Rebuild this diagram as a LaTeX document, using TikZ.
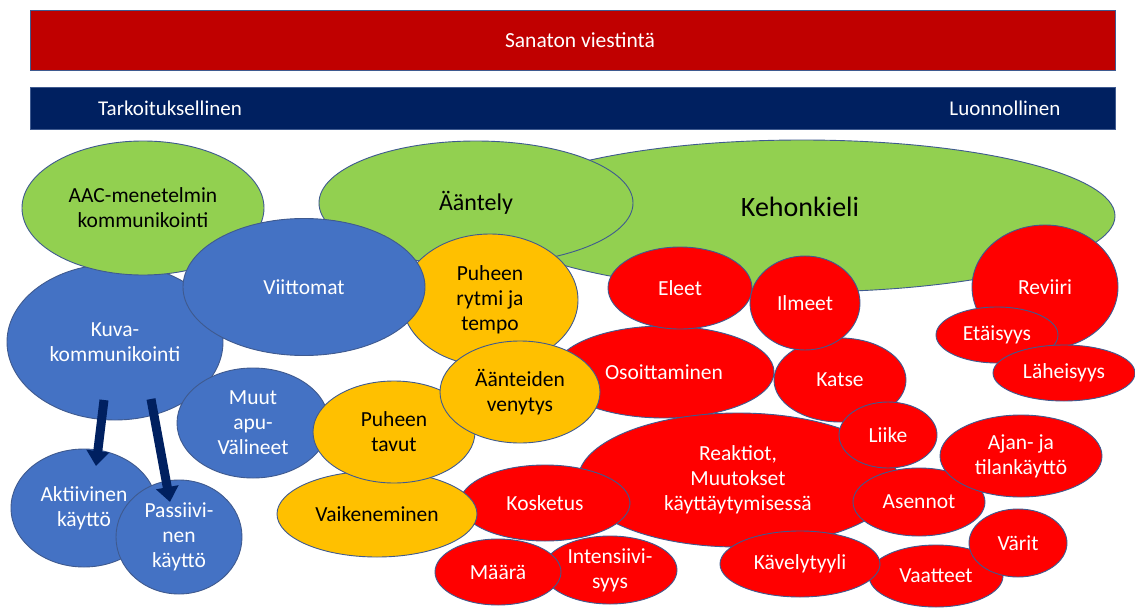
\documentclass[tikz,border=0pt]{standalone}
\usepackage{fontspec}
\setmainfont{Carlito}
\usetikzlibrary{shapes.geometric,arrows.meta}
\definecolor{cgreen}{HTML}{92D050}
\definecolor{cblue}{HTML}{4472C4}
\definecolor{cyellow}{HTML}{FFC000}
\definecolor{cred}{HTML}{FF0000}
\definecolor{cdarkred}{HTML}{C00000}
\definecolor{cnavy}{HTML}{002060}
\definecolor{cedge}{HTML}{3F5A8F}
\tikzset{
  bub/.style={ellipse, draw=cedge, line width=0.9pt, inner sep=0pt, align=center,
    font=\fontsize{21.5}{25}\selectfont},
  gbub/.style={bub, fill=cgreen, text=black},
  bbub/.style={bub, fill=cblue, text=white},
  ybub/.style={bub, fill=cyellow, text=black},
  rbub/.style={bub, fill=cred, text=white},
  bar/.style={draw=cedge, line width=0.9pt, rectangle, inner sep=0pt},
  bigarrow/.style={cnavy, line width=9pt, -{Triangle[width=22pt,length=15pt]}},
}
\newcommand{\bubble}[6]{\node[#1, minimum width=#4pt, minimum height=#5pt] (#6) at (#2,#3)}
\begin{document}
\begin{tikzpicture}[x=1pt,y=-1pt]
\useasboundingbox (0,0) rectangle (1135,610);
\fill[white] (0,0) rectangle (1135,610);
% bars
\node[bar, fill=cdarkred, minimum width=1085pt, minimum height=60pt, anchor=north west] (topbar) at (30,10) {};
\node[text=white, font=\fontsize{21.5}{25}\selectfont] (title) at (580,40) {Sanaton viestintä};
\node[bar, fill=cnavy, minimum width=1085pt, minimum height=42pt, anchor=north west] (scale) at (30,87) {};
\node[text=white, font=\fontsize{21}{25}\selectfont] (tark) at (170,108) {Tarkoituksellinen};
\node[text=white, font=\fontsize{21}{25}\selectfont] (luon) at (1005,108) {Luonnollinen};
% green
\node[gbub, minimum width=626pt, minimum height=152pt, text width=0pt] (keho) at (802,216) {};
\node[font=\fontsize{28}{32}\selectfont] (kehot) at (800,207) {Kehonkieli};
\bubble{gbub}{476}{203}{314}{124}{aantely} {\fontsize{24}{28}\selectfont Ääntely};
% blue left
\bubble{bbub}{115}{342}{216}{156}{kuva} {Kuva-\\kommunikointi};
\bubble{gbub}{143}{208}{242}{134}{aac} {AAC-menetelmin\\kommunikointi};
\bubble{rbub}{664}{372}{220}{92}{osoit} {Osoittaminen};
\bubble{ybub}{490}{300}{176}{132}{rytmi} {Puheen\\rytmi ja\\tempo};
\bubble{bbub}{304}{287}{242}{137}{viitt} {Viittomat};
\bubble{bbub}{253}{423}{152}{110}{muut} {Muut\\apu-\\Välineet};
% red middle
\bubble{rbub}{738}{480}{320}{134}{reakt} {Reaktiot,\\Muutokset\\käyttäytymisessä};
\bubble{rbub}{840}{380}{132}{84}{katse} {Katse};
\bubble{rbub}{680}{288}{144}{82}{eleet} {Eleet};
\bubble{rbub}{805}{303}{110}{94}{ilmeet} {Ilmeet};
\bubble{rbub}{888}{435}{98}{66}{liike} {Liike};
\bubble{rbub}{919}{502}{132}{68}{asennot} {Asennot};
\bubble{rbub}{545}{503}{170}{76}{kosk} {Kosketus};
\bubble{ybub}{377}{514}{200}{86}{vaik} {Vaikeneminen};
\bubble{ybub}{394}{432}{162}{102}{tavut} {Puheen\\tavut};
\bubble{ybub}{520}{392}{160}{102}{venyt} {Äänteiden\\venytys};
\bubble{rbub}{610}{570}{134}{68}{intens} {Intensiivi-\\syys};
\bubble{rbub}{498}{572}{126}{66}{maara} {Määrä};
\bubble{rbub}{936}{576}{134}{62}{vaatt} {Vaatteet};
\bubble{rbub}{1018}{543}{98}{68}{varit} {Värit};
\bubble{rbub}{800}{564}{160}{66}{kavel} {Kävelytyyli};
\bubble{rbub}{1021}{456}{162}{82}{ajan} {Ajan- ja\\tilankäyttö};
\bubble{rbub}{1045}{287}{146}{124}{reviiri} {Reviiri};
\bubble{rbub}{997}{335}{122}{56}{etais} {Etäisyys};
\bubble{rbub}{1064}{373}{142}{56}{laheis} {Läheisyys};
% blue bottom
\bubble{bbub}{84}{508}{146}{118}{aktiiv} {Aktiivinen\\käyttö};
\bubble{bbub}{179}{537}{126}{114}{passiiv} {Passiivi-\\nen\\käyttö};
% arrows
\coordinate (a1s) at (104,400);
\coordinate (a2s) at (151,399);
\coordinate (a1e) at (96,466);
\coordinate (a2e) at (170,502);
\draw[bigarrow] (a1s) -- (a1e);
\draw[bigarrow] (a2s) -- (a2e);
\end{tikzpicture}
\end{document}
